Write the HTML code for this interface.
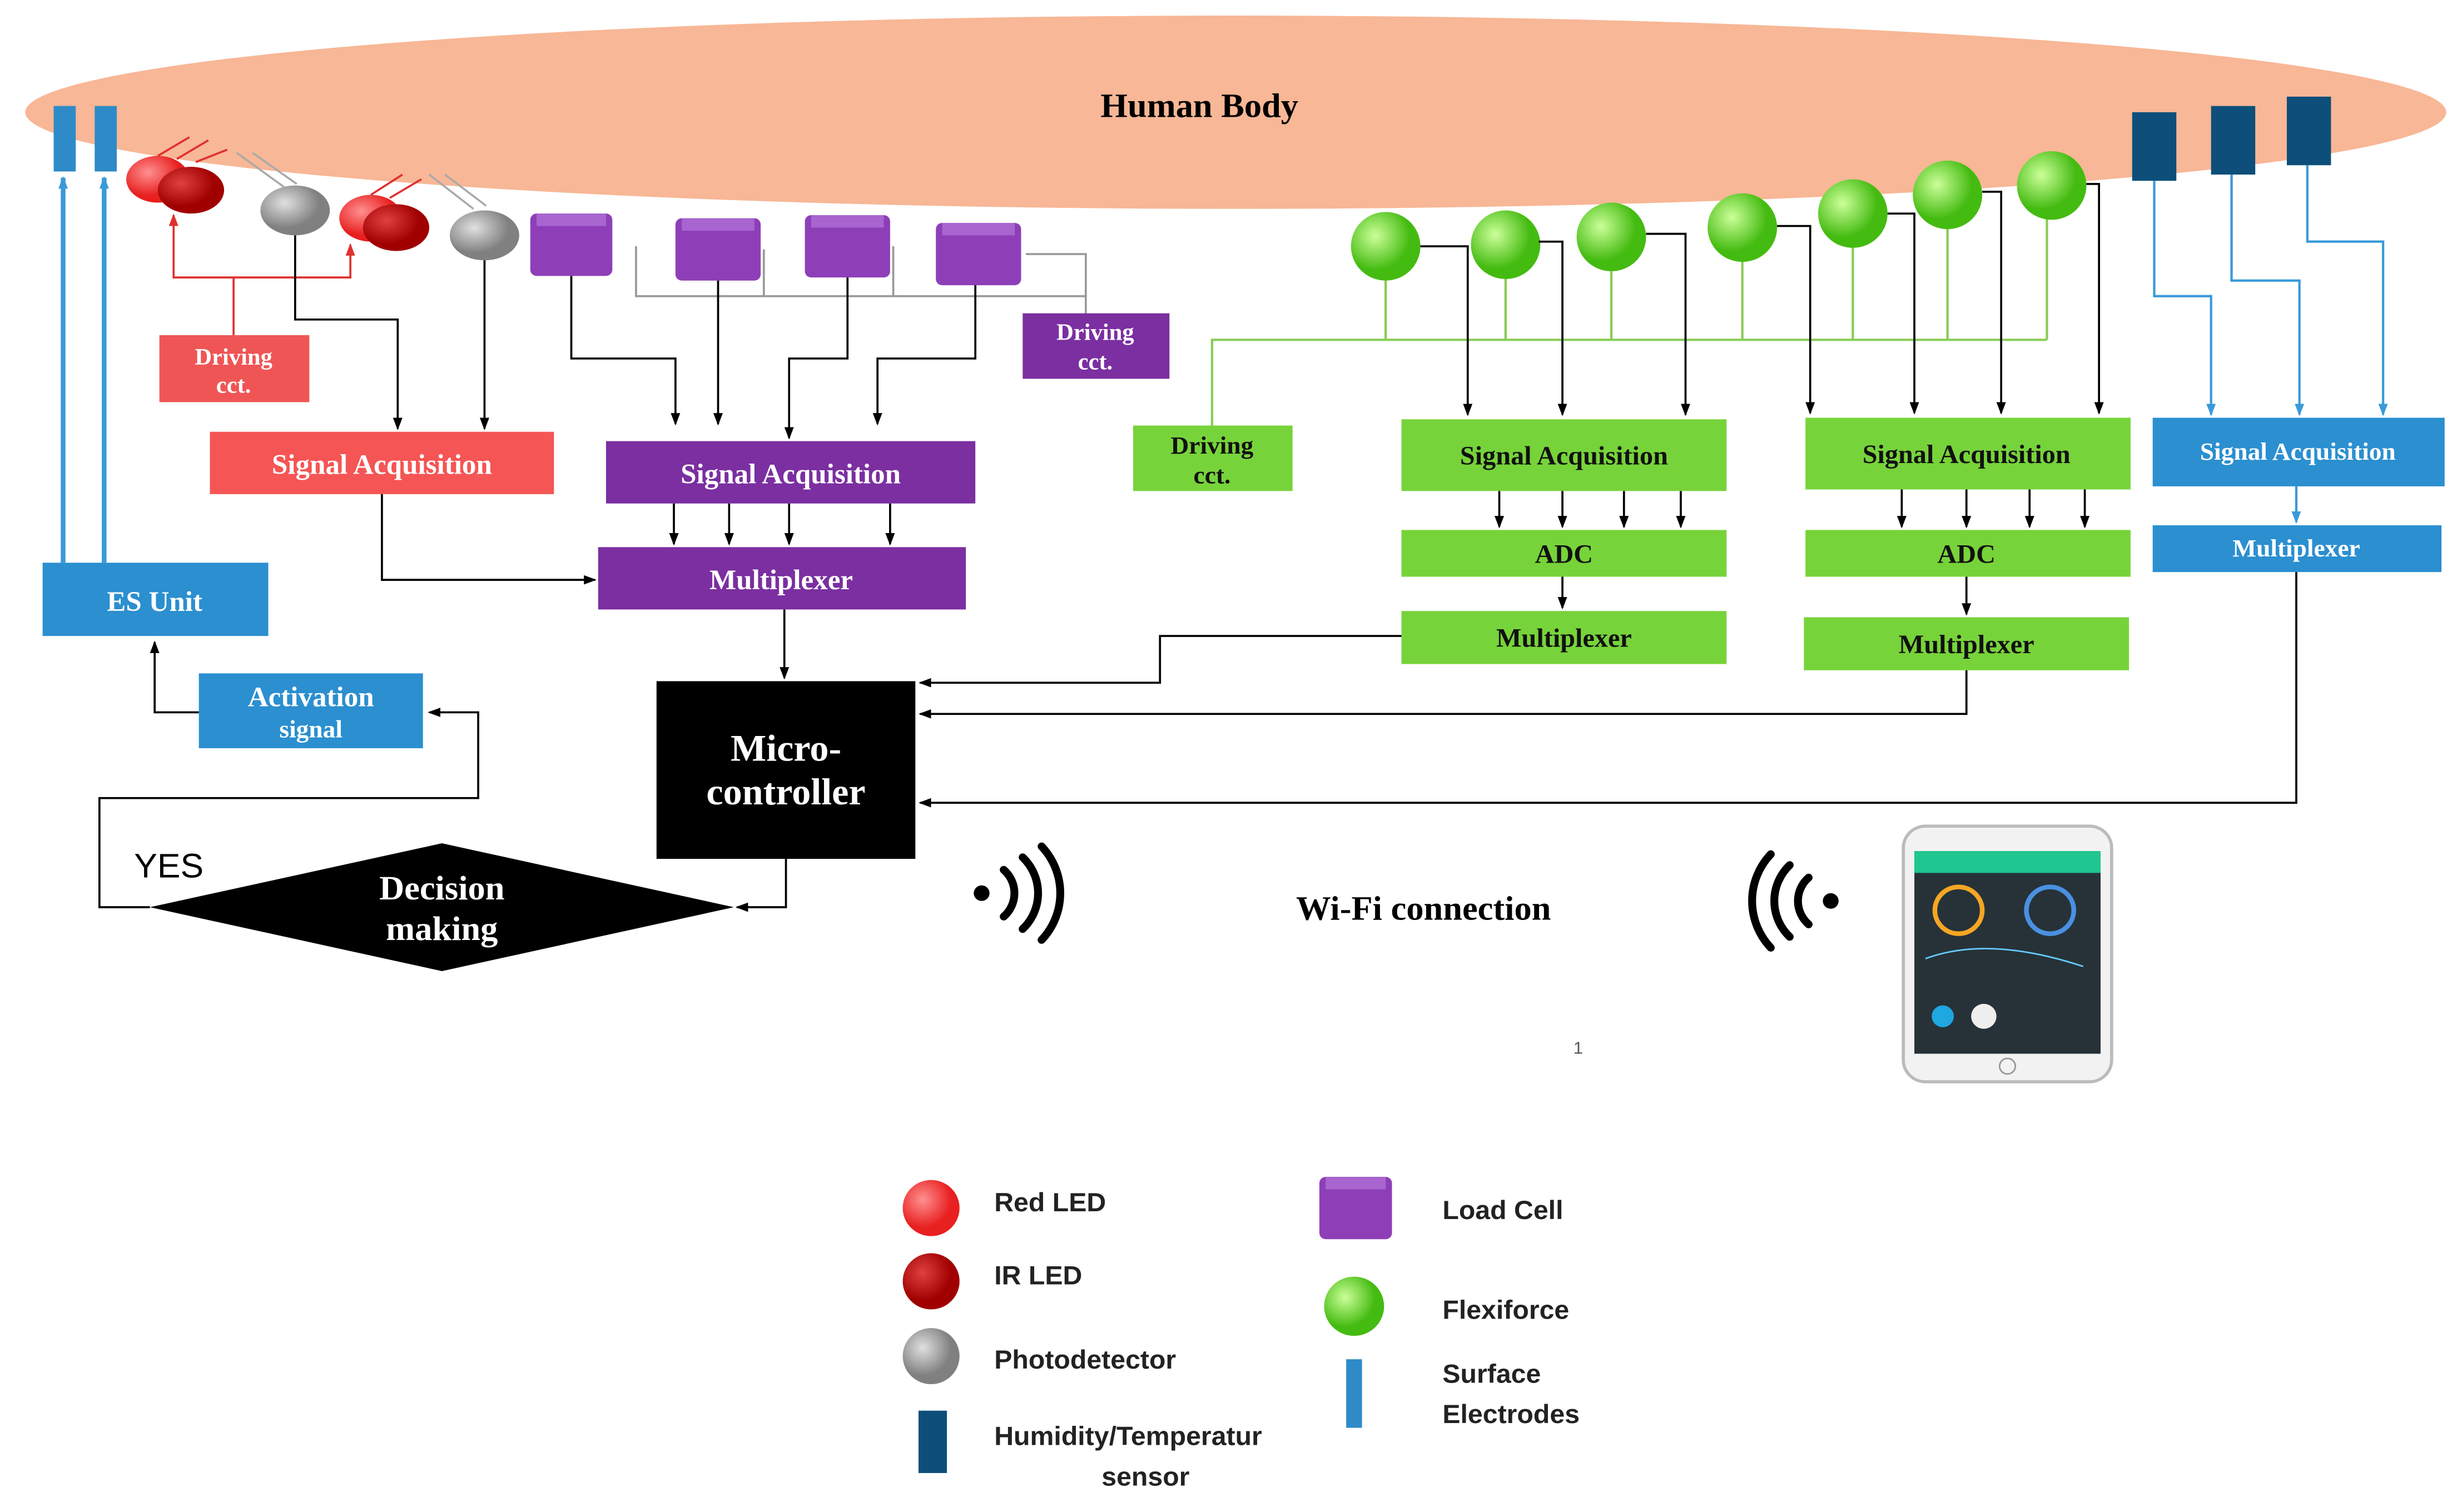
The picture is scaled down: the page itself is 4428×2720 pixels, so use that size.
<!DOCTYPE html>
<html><head><meta charset="utf-8"><style>
html,body{margin:0;padding:0;background:#fff;}
svg{display:block;}
.s{font-family:"Liberation Serif",serif;font-weight:bold;fill:#fff;text-anchor:middle;}
.l{font-family:"Liberation Sans",sans-serif;font-weight:bold;fill:#222;font-size:17px;}
</style></head><body>
<svg width="4428" height="2720" viewBox="0 0 1560 970" preserveAspectRatio="none" xmlns="http://www.w3.org/2000/svg">
<defs>
<marker id="a" markerWidth="8" markerHeight="8" refX="7" refY="4" orient="auto" markerUnits="userSpaceOnUse"><path d="M0,1 L8,4 L0,7z" fill="#000"/></marker>
<marker id="ab" markerWidth="8" markerHeight="8" refX="7" refY="4" orient="auto" markerUnits="userSpaceOnUse"><path d="M0,1 L8,4 L0,7z" fill="#3a9ad9"/></marker>
<marker id="ar" markerWidth="8" markerHeight="8" refX="7" refY="4" orient="auto" markerUnits="userSpaceOnUse"><path d="M0,1 L8,4 L0,7z" fill="#e03030"/></marker>
<radialGradient id="gr" cx="35%" cy="35%"><stop offset="0" stop-color="#ccff99"/><stop offset="1" stop-color="#44bb11"/></radialGradient>
<radialGradient id="rd" cx="35%" cy="35%"><stop offset="0" stop-color="#ff9090"/><stop offset="1" stop-color="#e82020"/></radialGradient>
<radialGradient id="ir" cx="35%" cy="35%"><stop offset="0" stop-color="#e04040"/><stop offset="1" stop-color="#a00000"/></radialGradient>
<radialGradient id="gy" cx="35%" cy="35%"><stop offset="0" stop-color="#e0e0e0"/><stop offset="1" stop-color="#808080"/></radialGradient>
</defs>
<ellipse cx="783" cy="72" rx="767" ry="62" fill="#f8b796"/>
<text x="760" y="75" font-family="Liberation Serif,serif" font-weight="bold" font-size="22" text-anchor="middle">Human Body</text>
<!-- electrodes -->
<rect x="34" y="68" width="14" height="42" fill="#2e8bc8"/><rect x="60" y="68" width="14" height="42" fill="#2e8bc8"/>
<g stroke="#3a9ad9" stroke-width="3" fill="none"><path d="M40,361V114" marker-end="url(#ab)"/><path d="M66,361V114" marker-end="url(#ab)"/></g>
<!-- LEDs -->
<ellipse cx="100" cy="115" rx="20" ry="15" fill="url(#rd)"/><ellipse cx="121" cy="122" rx="21" ry="15" fill="url(#ir)"/>
<ellipse cx="235" cy="140" rx="20" ry="15" fill="url(#rd)"/><ellipse cx="251" cy="146" rx="21" ry="15" fill="url(#ir)"/>
<ellipse cx="187" cy="135" rx="22" ry="16" fill="url(#gy)"/><ellipse cx="307" cy="151" rx="22" ry="16" fill="url(#gy)"/>
<g stroke="#e03030" stroke-width="1.3"><path d="M100,100L120,88M112,102L132,90M124,104L144,96M235,125L255,112M247,127L267,115"/></g>
<g stroke="#aaa" stroke-width="1.3"><path d="M150,98L180,120M160,98L188,118M272,112L300,134M282,112L308,132"/></g>
<rect x="101" y="215" width="95" height="43" fill="#f05555"/>
<text class="s" x="148" y="234" font-size="15" font-weight="normal">Driving</text><text class="s" x="148" y="252" font-size="15" font-weight="normal">cct.</text>
<g stroke="#e03030" stroke-width="1.3" fill="none"><path d="M148,215V178H110V138" marker-end="url(#ar)"/><path d="M148,178H222V157" marker-end="url(#ar)"/></g>
<rect x="133" y="277" width="218" height="40" fill="#f55555"/><text class="s" x="242" y="304" font-size="18">Signal Acquisition</text>
<g stroke="#000" stroke-width="1.3" fill="none">
<path d="M187,151V205H252V275" marker-end="url(#a)"/><path d="M307,167V275" marker-end="url(#a)"/>
<path d="M242,317V372H377" marker-end="url(#a)"/></g>
<!-- purple -->
<g fill="#8e3fb8"><rect x="336" y="137" width="52" height="40" rx="4"/><rect x="428" y="140" width="54" height="40" rx="4"/><rect x="510" y="138" width="54" height="40" rx="4"/><rect x="593" y="143" width="54" height="40" rx="4"/></g>
<g fill="#a865d0"><rect x="340" y="137" width="44" height="8"/><rect x="432" y="140" width="46" height="8"/><rect x="514" y="138" width="46" height="8"/><rect x="597" y="143" width="46" height="8"/></g>
<g stroke="#999" stroke-width="1.3" fill="none"><path d="M688,201V163H650"/><path d="M403,158V190H688"/><path d="M484,160V190M566,158V190"/></g>
<rect x="648" y="201" width="93" height="42" fill="#7b2fa0"/><text class="s" x="694" y="218" font-size="15">Driving</text><text class="s" x="694" y="237" font-size="15">cct.</text>
<g stroke="#000" stroke-width="1.3" fill="none">
<path d="M362,177V230H428V272" marker-end="url(#a)"/><path d="M455,180V272" marker-end="url(#a)"/><path d="M537,178V230H500V281" marker-end="url(#a)"/><path d="M618,183V230H556V272" marker-end="url(#a)"/>
<path d="M427,323V349" marker-end="url(#a)"/><path d="M462,323V349" marker-end="url(#a)"/><path d="M500,323V349" marker-end="url(#a)"/><path d="M564,323V349" marker-end="url(#a)"/>
<path d="M497,391V435" marker-end="url(#a)"/>
<path d="M498,551V582H467" marker-end="url(#a)"/>
<path d="M95,582H63V512H303V457H272" marker-end="url(#a)"/>
<path d="M126,457H98V412" marker-end="url(#a)"/>
<path d="M888,408H735V438H583" marker-end="url(#a)"/>
<path d="M1246,430V458H583" marker-end="url(#a)"/>
<path d="M1455,367V515H583" marker-end="url(#a)"/>
</g>
<rect x="384" y="283" width="234" height="40" fill="#7b2fa0"/><text class="s" x="501" y="310" font-size="18">Signal Acquisition</text>
<rect x="379" y="351" width="233" height="40" fill="#7b2fa0"/><text class="s" x="495" y="378" font-size="18">Multiplexer</text>
<rect x="27" y="361" width="143" height="47" fill="#2b8fd0"/><text class="s" x="98" y="392" font-size="18">ES Unit</text>
<rect x="126" y="432" width="142" height="48" fill="#2b8fd0"/><text class="s" x="197" y="453" font-size="18">Activation</text><text class="s" x="197" y="473" font-size="16">signal</text>
<rect x="416" y="437" width="164" height="114" fill="#000"/><text class="s" x="498" y="488" font-size="24">Micro-</text><text class="s" x="498" y="516" font-size="24">controller</text>
<polygon points="95,582 280,541 465,582 280,623" fill="#000"/>
<text class="s" x="280" y="577" font-size="22">Decision</text><text class="s" x="280" y="603" font-size="22">making</text>
<text x="85" y="563" font-family="Liberation Sans,sans-serif" font-size="22">YES</text>
<!-- wifi -->
<g fill="none" stroke="#000" stroke-width="5" stroke-linecap="round"><circle cx="622" cy="573" r="5" fill="#000" stroke="none"/>
<path d="M636,558A20,20 0 0 1 636,588M648,550A32,32 0 0 1 648,596M660,543A44,44 0 0 1 660,603"/>
<circle cx="1160" cy="578" r="5" fill="#000" stroke="none"/>
<path d="M1146,563A20,20 0 0 0 1146,593M1134,555A32,32 0 0 0 1134,601M1122,548A44,44 0 0 0 1122,608"/></g>
<text x="902" y="590" font-family="Liberation Serif,serif" font-weight="bold" font-size="22" text-anchor="middle">Wi-Fi connection</text>
<text x="1000" y="676" font-family="Liberation Sans,sans-serif" font-size="11" text-anchor="middle" fill="#555">1</text>
<!-- phone -->
<rect x="1206" y="530" width="132" height="164" rx="14" fill="#f2f2f2" stroke="#bbb" stroke-width="2"/>
<rect x="1213" y="546" width="118" height="130" fill="#263238"/><rect x="1213" y="546" width="118" height="14" fill="#1fc690"/>
<circle cx="1241" cy="584" r="15" fill="none" stroke="#f5a623" stroke-width="3"/><circle cx="1299" cy="584" r="15" fill="none" stroke="#4a90e2" stroke-width="3"/>
<path d="M1220,615Q1260,600 1320,620" stroke="#6cf" fill="none"/><circle cx="1231" cy="652" r="7" fill="#1ea7e1"/><circle cx="1257" cy="652" r="8" fill="#eee"/>
<circle cx="1272" cy="684" r="5" fill="none" stroke="#999"/>
<!-- green -->
<g stroke="#88cc55" stroke-width="1.5" fill="none"><path d="M878,170V218M954,170V218M1021,165V218M1104,160V218M1174,150V218M1234,140V218M1297,135V218"/><path d="M1297,218H768V273"/></g>
<g fill="url(#gr)"><circle cx="878" cy="158" r="22"/><circle cx="954" cy="157" r="22"/><circle cx="1021" cy="152" r="22"/><circle cx="1104" cy="146" r="22"/><circle cx="1174" cy="137" r="22"/><circle cx="1234" cy="125" r="22"/><circle cx="1300" cy="119" r="22"/></g>
<g stroke="#000" stroke-width="1.3" fill="none">
<path d="M900,158H930V266" marker-end="url(#a)"/><path d="M975,155H990V266" marker-end="url(#a)"/><path d="M1043,150H1068V266" marker-end="url(#a)"/><path d="M1126,145H1147V265" marker-end="url(#a)"/><path d="M1196,137H1213V265" marker-end="url(#a)"/><path d="M1256,123H1268V265" marker-end="url(#a)"/><path d="M1322,118H1330V265" marker-end="url(#a)"/>
<path d="M950,315V338" marker-end="url(#a)"/><path d="M990,315V338" marker-end="url(#a)"/><path d="M1029,315V338" marker-end="url(#a)"/><path d="M1065,315V338" marker-end="url(#a)"/><path d="M990,370V390" marker-end="url(#a)"/>
<path d="M1205,314V338" marker-end="url(#a)"/><path d="M1246,314V338" marker-end="url(#a)"/><path d="M1286,314V338" marker-end="url(#a)"/><path d="M1321,314V338" marker-end="url(#a)"/><path d="M1246,370V394" marker-end="url(#a)"/>
</g>
<g fill="#77d33a">
<rect x="718" y="273" width="101" height="42"/><rect x="888" y="269" width="206" height="46"/><rect x="888" y="340" width="206" height="30"/><rect x="888" y="392" width="206" height="34"/>
<rect x="1144" y="268" width="206" height="46"/><rect x="1144" y="340" width="206" height="30"/><rect x="1143" y="396" width="206" height="34"/></g>
<g class="s" style="fill:#111">
<text x="768" y="291" font-size="16">Driving</text><text x="768" y="310" font-size="16">cct.</text>
<text x="991" y="298" font-size="17">Signal Acquisition</text><text x="991" y="361" font-size="17">ADC</text><text x="991" y="415" font-size="17">Multiplexer</text>
<text x="1246" y="297" font-size="17">Signal Acquisition</text><text x="1246" y="361" font-size="17">ADC</text><text x="1246" y="419" font-size="17">Multiplexer</text></g>
<!-- blue sensors -->
<g fill="#0d4f7a"><rect x="1351" y="72" width="28" height="44"/><rect x="1401" y="68" width="28" height="44"/><rect x="1449" y="62" width="28" height="44"/></g>
<g stroke="#3a9ad9" stroke-width="1.5" fill="none"><path d="M1365,116V190H1401V266" marker-end="url(#ab)"/><path d="M1414,112V180H1457V266" marker-end="url(#ab)"/><path d="M1462,106V155H1510V266" marker-end="url(#ab)"/><path d="M1455,312V335" marker-end="url(#ab)"/></g>
<rect x="1364" y="268" width="185" height="44" fill="#2b8fd0"/><text class="s" x="1456" y="295" font-size="16">Signal Acquisition</text>
<rect x="1364" y="337" width="183" height="30" fill="#2b8fd0"/><text class="s" x="1455" y="357" font-size="16">Multiplexer</text>
<!-- legend -->
<circle cx="590" cy="775" r="18" fill="url(#rd)"/><circle cx="590" cy="822" r="18" fill="url(#ir)"/><circle cx="590" cy="870" r="18" fill="url(#gy)"/>
<rect x="582" y="905" width="18" height="40" fill="#0d4f7a"/>
<text class="l" x="630" y="777">Red LED</text><text class="l" x="630" y="824">IR LED</text><text class="l" x="630" y="878">Photodetector</text>
<text class="l" x="630" y="927">Humidity/Temperatur</text><text class="l" x="698" y="953">sensor</text>
<rect x="836" y="755" width="46" height="40" rx="4" fill="#8e3fb8"/><rect x="840" y="755" width="38" height="8" fill="#a865d0"/>
<text class="l" x="914" y="782">Load Cell</text>
<circle cx="858" cy="838" r="19" fill="url(#gr)"/><text class="l" x="914" y="846">Flexiforce</text>
<rect x="853" y="872" width="10" height="44" fill="#2e8bc8"/>
<text class="l" x="914" y="887">Surface</text><text class="l" x="914" y="913">Electrodes</text>
</svg>
</body></html>
